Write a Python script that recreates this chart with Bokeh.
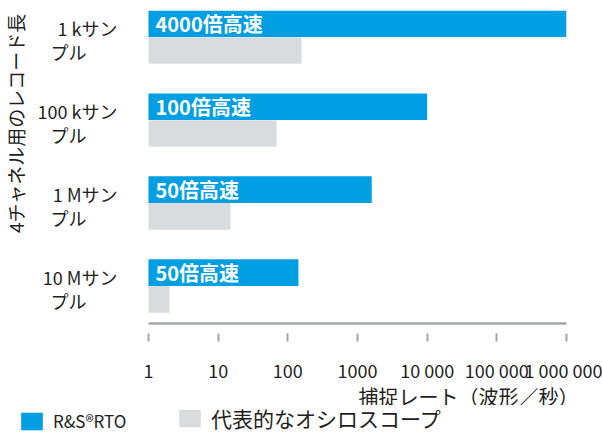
import math
from bokeh.plotting import figure
from bokeh.layouts import column
from bokeh.core.properties import value
from bokeh.models import (Range1d, FixedTicker, ColumnDataSource, LabelSet, Label,
                          Legend, LegendItem, Title)
from bokeh.transform import dodge
from bokeh.embed import file_html
from bokeh.resources import INLINE

# ---- data ----
categories = ["1 kサンプル", "100 kサンプル", "1 Mサンプル", "10 Mサンプル"]
rto_rate = [1000000, 10000, 1600, 142]
typical_rate = [157, 69, 15, 2]
speedup_labels = ["4000倍高速", "100倍高速", "50倍高速", "50倍高速"]
tick_values = [1, 10, 100, 1000, 10000, 100000, 1000000]
tick_labels = ["1", "10", "100", "1000", "10 000", "100 000", "1 000 000"]
series_names = ["R&S®RTO", "代表的なオシロスコープ"]
x_title = "捕捉レート（波形／秒）"
y_title = "4チャネル用のレコード長"

# ---- styles ----
BLUE = "#009fe3"
GRAY = "#d9dcde"
AXIS = "#a3a7aa"
TXT = "#231f20"
FONT = "Liberation Sans Narrow, Noto Sans CJK JP, sans-serif"
JFONT = "Noto Sans CJK JP, sans-serif"

# layout geometry (pixels)
FRAME_W = 566
AXIS_LEFT_PX = 148
x_lo = 10 ** (-AXIS_LEFT_PX * 6 / (FRAME_W - AXIS_LEFT_PX))

n = len(categories)
ypos = list(range(n))[::-1]
src = ColumnDataSource(dict(
    y=ypos, rto=rto_rate, typ=typical_rate, lab=speedup_labels,
    line1=[c[:-2] for c in categories], line2=[c[-2:] for c in categories],
    base=[tick_values[0]] * n,
))

y_lo, y_hi = -0.452, 3.321
p = figure(width=602, height=405, x_axis_type="log",
           x_range=Range1d(x_lo, tick_values[-1]), y_range=Range1d(y_lo, y_hi),
           output_backend="svg", toolbar_location=None,
           min_border_left=0, min_border_right=602 - FRAME_W, min_border_top=10,
           min_border_bottom=78)
p.outline_line_color = None
p.xgrid.grid_line_color = None
p.ygrid.grid_line_color = None
p.yaxis.visible = False

off = 0.161
h = 0.321
r_rto = p.hbar(y=dodge("y", off), left="base", right="rto", height=h,
               source=src, fill_color=BLUE, line_color=None)
r_typ = p.hbar(y=dodge("y", -off), left="base", right="typ", height=h,
               source=src, fill_color=GRAY, line_color=None)

ax = p.xaxis[0]
ax.ticker = FixedTicker(ticks=tick_values)
ax.bounds = (tick_values[0], tick_values[-1])
ax.major_label_overrides = {v: t for v, t in zip(tick_values, tick_labels)}
ax.axis_line_color = AXIS
ax.axis_line_width = 2.5
ax.major_tick_line_color = AXIS
ax.major_tick_line_width = 2
ax.major_tick_in = -10
ax.major_tick_out = 18
ax.minor_tick_line_color = None
ax.major_label_standoff = 15
ax.major_label_text_font = FONT
ax.major_label_text_font_size = "18px"
ax.major_label_text_color = TXT

# bar labels
p.add_layout(LabelSet(x="base", y=dodge("y", off), text="lab", source=src,
                      x_offset=7, text_baseline="middle", text_align="left",
                      text_color="white", text_font=value(FONT),
                      text_font_style="bold", text_font_size="20px"))
# category labels
p.add_layout(LabelSet(x="base", y="y", text="line1", source=src,
                      x_offset=-31, y_offset=9, text_baseline="middle",
                      text_align="right", text_color=TXT, text_font=value(FONT),
                      text_font_size="18px"))
p.add_layout(LabelSet(x="base", y="y", text="line2", source=src,
                      x_offset=-98, y_offset=-15, text_baseline="middle",
                      text_align="left", text_color=TXT, text_font=value(FONT),
                      text_font_size="18px"))

# y title
p.add_layout(Label(x=1, y=310, x_units="screen", y_units="screen", text=y_title,
                   angle=math.pi / 2, text_align="right", text_baseline="top",
                   text_color=TXT, text_font=JFONT, text_font_size="19px"))

# x title
p.add_layout(Title(text=x_title, align="right", offset=-12, standoff=-11,
                   text_font=JFONT, text_font_size="20px", text_font_style="normal",
                   text_color=TXT), "below")

# legend strip
lf = figure(width=602, height=28, output_backend="svg", toolbar_location=None,
            x_axis_location=None, y_axis_location=None, min_border=0,
            x_range=Range1d(0, 1), y_range=Range1d(0, 1))
lf.outline_line_color = None
lf.xgrid.visible = False
lf.ygrid.visible = False
hidden = ColumnDataSource(dict(y=[-10], right=[1]))
d_rto = lf.hbar(y="y", left=0, right="right", height=1, source=hidden,
                fill_color=BLUE, line_color=None)
d_typ = lf.hbar(y="y", left=0, right="right", height=1, source=hidden,
                fill_color=GRAY, line_color=None)
common = dict(orientation="horizontal", glyph_width=27, glyph_height=22,
              label_standoff=8, padding=0, margin=0, border_line_color=None,
              background_fill_alpha=0, label_text_color=TXT)
leg1 = Legend(items=[LegendItem(label=series_names[0], renderers=[d_rto])],
              location=(18, 0), label_text_font=FONT, label_text_font_size="17px",
              **common)
leg2 = Legend(items=[LegendItem(label=series_names[1], renderers=[d_typ])],
              location=(176, 0), label_text_font=JFONT,
              label_text_font_size="21px", **common)
lf.add_layout(leg1, "center")
lf.add_layout(leg2, "center")

layout = column(p, lf, spacing=0)
open("out.html", "w").write(file_html(layout, INLINE))
